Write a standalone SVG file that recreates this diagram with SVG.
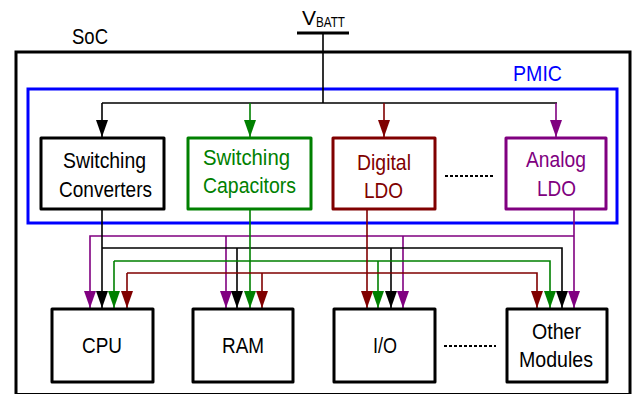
<svg xmlns="http://www.w3.org/2000/svg" width="637" height="394" viewBox="0 0 637 394">
<defs>
<style>
text{font-family:"Liberation Sans",Arial,sans-serif;font-size:22px}
.box{fill:#fff;stroke-width:3;stroke-linejoin:round}
.k{stroke:#000}.g{stroke:#008000}.r{stroke:#800000}.p{stroke:#800080}
.tk{fill:#000}.tg{fill:#008000}.tr{fill:#800000}.tp{fill:#800080}
.ln{fill:none;stroke-width:1.6}
.dot{stroke:#000;stroke-width:2;stroke-dasharray:3,2;fill:none}
</style>
<marker id="ak" markerUnits="userSpaceOnUse" markerWidth="12" markerHeight="17" refX="6" refY="17" viewBox="0 0 12 17"><path d="M0,0H12L6,17z" fill="#000"/></marker>
<marker id="ag" markerUnits="userSpaceOnUse" markerWidth="12" markerHeight="17" refX="6" refY="17" viewBox="0 0 12 17"><path d="M0,0H12L6,17z" fill="#008000"/></marker>
<marker id="ar" markerUnits="userSpaceOnUse" markerWidth="12" markerHeight="17" refX="6" refY="17" viewBox="0 0 12 17"><path d="M0,0H12L6,17z" fill="#800000"/></marker>
<marker id="ap" markerUnits="userSpaceOnUse" markerWidth="12" markerHeight="17" refX="6" refY="17" viewBox="0 0 12 17"><path d="M0,0H12L6,17z" fill="#800080"/></marker>
</defs>
<rect width="637" height="394" fill="#fff"/>
<g id="soc">
<rect x="16" y="52" width="614" height="342.5" fill="none" stroke="#000" stroke-width="3"/>
<text x="72" y="44" textLength="36" lengthAdjust="spacingAndGlyphs">SoC</text>
</g>
<g id="vbatt">
<text x="302" y="25" style="font-size:21px">V</text>
<text x="316" y="27" style="font-size:14px" textLength="29" lengthAdjust="spacingAndGlyphs">BATT</text>
<line x1="297" y1="33" x2="349" y2="33" stroke="#000" stroke-width="3"/>
</g>
<g id="pmic">
<rect x="28" y="89" width="589" height="134" fill="none" stroke="#0000ff" stroke-width="3"/>
<text x="513" y="81" fill="#0000ff" textLength="49" lengthAdjust="spacingAndGlyphs">PMIC</text>
</g>
<g id="connectors">
<path class="ln k" d="M323,33V103M102,103H557" stroke-width="2"/>
<path class="ln k" d="M102,103V137" stroke-width="2" marker-end="url(#ak)"/>
<path class="ln g" d="M250,103V137" stroke-width="2" marker-end="url(#ag)"/>
<path class="ln r" d="M384,103V137" stroke-width="2" marker-end="url(#ar)"/>
<path class="ln p" d="M556,103V137" stroke-width="2" marker-end="url(#ap)"/>
<path class="ln p" d="M574,209V308" marker-end="url(#ap)"/>
<path class="ln p" d="M574,236H90V308" marker-end="url(#ap)"/>
<path class="ln p" d="M226,236V308" marker-end="url(#ap)"/>
<path class="ln p" d="M403,236V308" marker-end="url(#ap)"/>
<path class="ln k" d="M102,209V308" marker-end="url(#ak)"/>
<path class="ln k" d="M102,248H562V308" marker-end="url(#ak)"/>
<path class="ln k" d="M237,248V308" marker-end="url(#ak)"/>
<path class="ln k" d="M391,248V308" marker-end="url(#ak)"/>
<path class="ln g" d="M250,209V308" marker-end="url(#ag)"/>
<path class="ln g" d="M114,261H550V308" marker-end="url(#ag)"/>
<path class="ln g" d="M114,261V308" marker-end="url(#ag)"/>
<path class="ln g" d="M378,261V308" marker-end="url(#ag)"/>
<path class="ln r" d="M367,209V308" marker-end="url(#ar)"/>
<path class="ln r" d="M127,273H537V308" marker-end="url(#ar)"/>
<path class="ln r" d="M127,273V308" marker-end="url(#ar)"/>
<path class="ln r" d="M262,273V308" marker-end="url(#ar)"/>
<path class="dot" d="M445,176H495"/>
<path class="dot" d="M444,346H496"/>
</g>
<g id="switching-converters">
<rect class="box k" x="41" y="138" width="123" height="71"/>
<text x="63" y="168" class="tk" textLength="83" lengthAdjust="spacingAndGlyphs">Switching</text>
<text x="59" y="197" class="tk" textLength="93" lengthAdjust="spacingAndGlyphs">Converters</text>
</g>
<g id="switching-capacitors">
<rect class="box g" x="188" y="138" width="123" height="71"/>
<text x="203" y="165" class="tg" textLength="87" lengthAdjust="spacingAndGlyphs">Switching</text>
<text x="203" y="193" class="tg" textLength="93" lengthAdjust="spacingAndGlyphs">Capacitors</text>
</g>
<g id="digital-ldo">
<rect class="box r" x="333" y="138" width="102" height="71"/>
<text x="357" y="170" class="tr" textLength="54" lengthAdjust="spacingAndGlyphs">Digital</text>
<text x="364" y="198" class="tr" textLength="39" lengthAdjust="spacingAndGlyphs">LDO</text>
</g>
<g id="analog-ldo">
<rect class="box p" x="506" y="138" width="100" height="71"/>
<text x="526" y="167" class="tp" textLength="60" lengthAdjust="spacingAndGlyphs">Analog</text>
<text x="537" y="196" class="tp" textLength="39" lengthAdjust="spacingAndGlyphs">LDO</text>
</g>
<g id="cpu">
<rect class="box k" x="52" y="309" width="101" height="73"/>
<text x="82" y="353" textLength="40" lengthAdjust="spacingAndGlyphs">CPU</text>
</g>
<g id="ram">
<rect class="box k" x="193" y="309" width="100" height="73"/>
<text x="222" y="353" textLength="42" lengthAdjust="spacingAndGlyphs">RAM</text>
</g>
<g id="io">
<rect class="box k" x="334" y="309" width="101" height="73"/>
<text x="373" y="353" textLength="24" lengthAdjust="spacingAndGlyphs">I/O</text>
</g>
<g id="other-modules">
<rect class="box k" x="507" y="309" width="100" height="73"/>
<text x="532" y="339" textLength="49" lengthAdjust="spacingAndGlyphs">Other</text>
<text x="519" y="367" textLength="74" lengthAdjust="spacingAndGlyphs">Modules</text>
</g>
</svg>
